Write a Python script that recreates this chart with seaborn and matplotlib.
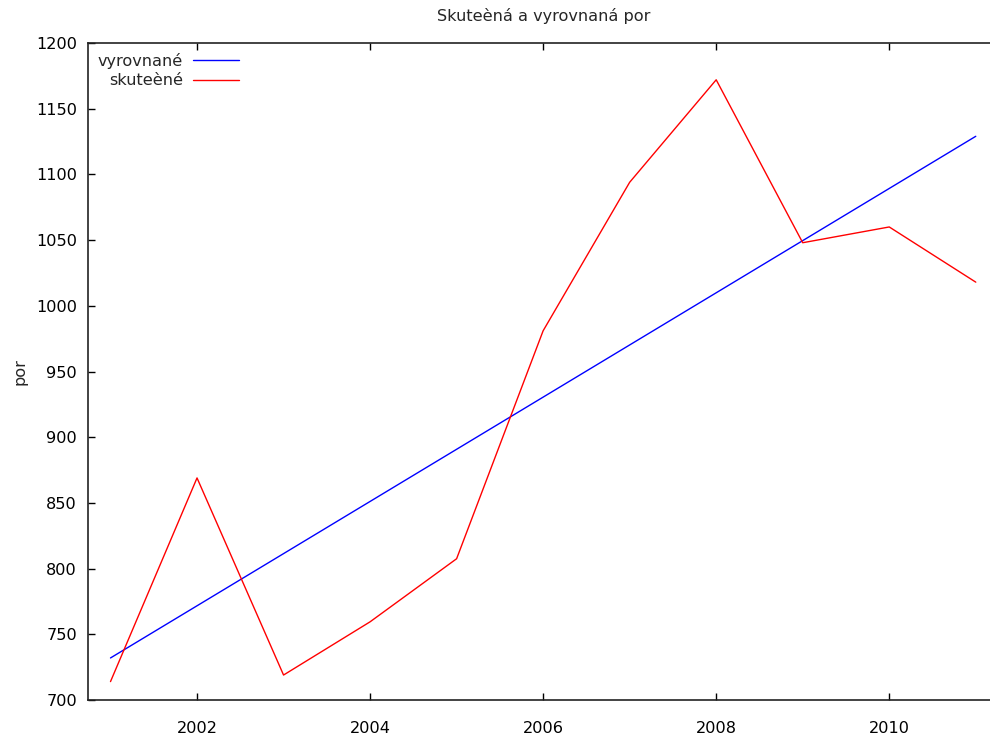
import pandas as pd
import seaborn as sns
from matplotlib import pyplot as plt

# data
years = [2001, 2002, 2003, 2004, 2005, 2006, 2007, 2008, 2009, 2010, 2011]
actual = [714, 869, 719, 759.5, 807.5, 981, 1094, 1172, 1048, 1060, 1018]
fitted = [732, 771.7, 811.4, 851.1, 890.8, 930.5, 970.2, 1009.9, 1049.6, 1089.3, 1129]
series_names = ["vyrovnané", "skuteèné"]
series_colors = ["#0000ff", "#ff0000"]

df = pd.DataFrame(
    {
        "rok": years * 2,
        "por": fitted + actual,
        "serie": [series_names[0]] * len(years) + [series_names[1]] * len(years),
    }
)

sns.set_style("ticks")
plt.rcParams["font.family"] = ["DejaVu Sans"]
fs = 11.6
plt.rcParams["font.size"] = fs

fig = plt.figure(figsize=(9.9, 7.37), dpi=100)
# axes extends past the right edge like the original
ax = fig.add_axes([88 / 990, 37 / 737, 912 / 990, 657 / 737])

sns.lineplot(
    data=df,
    x="rok",
    y="por",
    hue="serie",
    palette=dict(zip(series_names, series_colors)),
    linewidth=1.0,
    ax=ax,
)

ax.set_xlim(2000.74, 2011.28)
ax.set_ylim(700, 1200)
ax.set_xticks([2002, 2004, 2006, 2008, 2010])
ax.set_yticks(range(700, 1201, 50))
ax.tick_params(direction="in", length=5, width=1, top=True, right=False,
               labelsize=fs, colors="#000000")
ax.tick_params(axis="y", pad=8)
ax.tick_params(axis="x", pad=15)
ax.spines["right"].set_visible(False)
for s in ["left", "bottom", "top"]:
    ax.spines[s].set_linewidth(1.2)
    ax.spines[s].set_color("#222222")

ax.set_xlabel("")
ax.set_ylabel("por", fontsize=fs, labelpad=6)
ax.set_title("Skuteèná a vyrovnaná por", fontsize=fs, pad=16)

leg = ax.legend(
    loc="upper left",
    frameon=False,
    markerfirst=False,
    handlelength=2.9,
    handletextpad=0.6,
    labelspacing=0.3,
    borderaxespad=0.2,
    fontsize=fs,
)
for t in leg.get_texts():
    t.set_ha("right")
leg._legend_box.align = "right"

fig.savefig("out.png", dpi=100)
